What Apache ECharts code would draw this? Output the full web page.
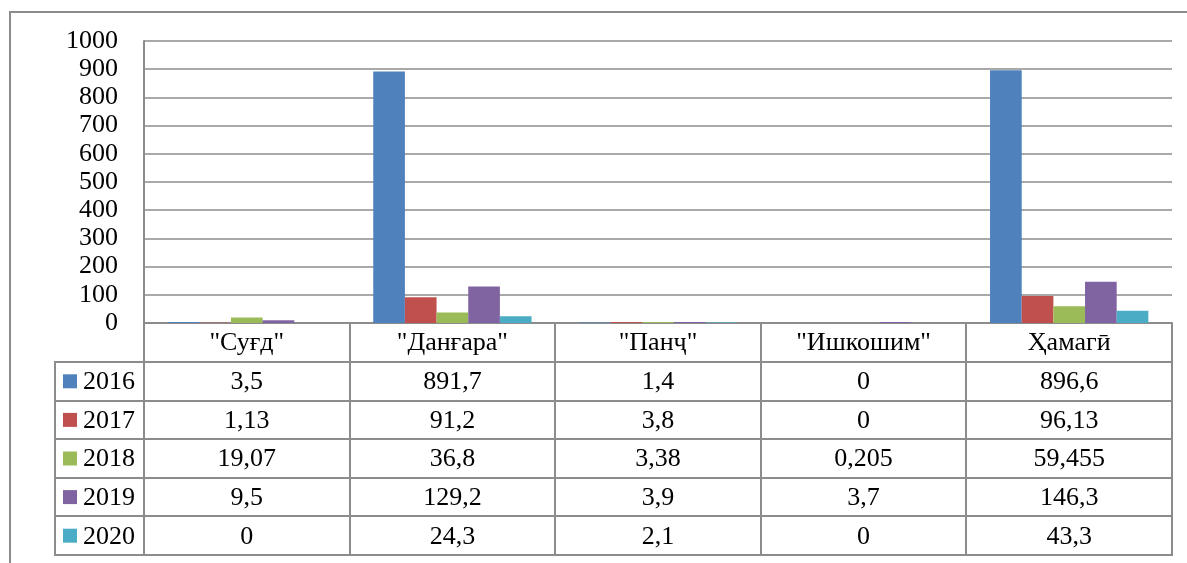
<!DOCTYPE html>
<html>
<head>
<meta charset="utf-8">
<script src="https://cdn.jsdelivr.net/npm/echarts@6/dist/echarts.min.js"></script>
<style>
html,body{margin:0;padding:0;background:#fff;}
#c{width:1187px;height:563px;}
</style>
</head>
<body>
<div id="c"></div>
<script>
const categories = ['"Суғд"', '"Данғара"', '"Панҷ"', '"Ишкошим"', 'Ҳамагӣ'];
const years = ['2016', '2017', '2018', '2019', '2020'];
const v2016 = [3.5, 891.7, 1.4, 0, 896.6];
const v2017 = [1.13, 91.2, 3.8, 0, 96.13];
const v2018 = [19.07, 36.8, 3.38, 0.205, 59.455];
const v2019 = [9.5, 129.2, 3.9, 3.7, 146.3];
const v2020 = [0, 24.3, 2.1, 0, 43.3];
const yTicks = [0, 100, 200, 300, 400, 500, 600, 700, 800, 900, 1000];

const seriesValues = [v2016, v2017, v2018, v2019, v2020];
const colors = ['#4F81BD', '#C0504D', '#9BBB59', '#8064A2', '#4BACC6'];
const gridColor = '#8c8c8c';
const FAMILY = 'Liberation Serif';
const FSIZE = 26;
const FONT = FSIZE + 'px Liberation Serif';

const chart = echarts.init(document.getElementById('c'), null, {renderer: 'canvas'});
const gridLeft = 144, gridRight = 15, gridTop = 41, gridBottom = 240;

chart.setOption({
  animation: false,
  grid: {left: gridLeft, right: gridRight, top: gridTop, bottom: gridBottom},
  xAxis: {
    type: 'category', data: categories,
    axisLine: {lineStyle: {color: gridColor, width: 2}},
    axisTick: {show: false}, axisLabel: {show: false}
  },
  yAxis: {
    type: 'value', min: yTicks[0], max: yTicks[yTicks.length - 1], interval: 100,
    axisLine: {show: true, lineStyle: {color: gridColor, width: 2}},
    axisTick: {show: false},
    axisLabel: {margin: 26, fontFamily: FAMILY, fontSize: FSIZE, color: '#000', formatter: v => String(v)},
    splitLine: {lineStyle: {color: gridColor, width: 1.5}}
  },
  series: years.map((y, i) => ({
    type: 'bar', name: y, data: seriesValues[i],
    barGap: '0%', barCategoryGap: '23%',
    itemStyle: {color: colors[i]}
  }))
});

// Build data table under the plot
const W = 1187;
const x0 = gridLeft, x1 = W - gridRight;
const y0 = chart.convertToPixel({yAxisIndex: 0}, 0);
const headerH = 39, rowH = 38.6, tableLeft = 55;
const colW = (x1 - x0) / categories.length;
const bottom = Math.round(y0 + headerH + rowH * years.length);
const g = [];
const fmt = v => String(v).replace('.', ',');
const txt = (text, x, y, align) => ({type: 'text', style: {text: text, x: x, y: y, fontFamily: FAMILY, fontSize: FSIZE, font: FONT, fill: '#000', align: align, verticalAlign: 'middle', textAlign: align, textVerticalAlign: 'middle'}});
const LW = 2;

// outer frame
g.push({type: 'rect', shape: {x: 10, y: 12, width: 1300, height: 700}, style: {fill: 'none', stroke: gridColor, lineWidth: LW}, silent: true});

// horizontal lines
for (let k = 0; k <= years.length; k++) {
  const y = Math.round(y0 + headerH + k * rowH);
  g.push({type: 'line', shape: {x1: tableLeft - 1, y1: y, x2: x1 + 1, y2: y}, style: {stroke: gridColor, lineWidth: LW}});
}
// vertical lines
for (let c = 0; c <= categories.length; c++) {
  const x = Math.round(x0 + c * colW);
  g.push({type: 'line', shape: {x1: x, y1: y0, x2: x, y2: bottom + 1}, style: {stroke: gridColor, lineWidth: LW}});
}
g.push({type: 'line', shape: {x1: tableLeft, y1: y0 + headerH, x2: tableLeft, y2: bottom + 1}, style: {stroke: gridColor, lineWidth: LW}});

// header texts
categories.forEach((c, i) => {
  const cx = chart.convertToPixel({xAxisIndex: 0}, c);
  g.push(txt(c, cx, y0 + headerH / 2 + 1, 'center'));
});
// rows
years.forEach((yr, r) => {
  const cy = y0 + headerH + rowH * r + rowH / 2 + 1;
  g.push({type: 'rect', shape: {x: 63, y: cy - 8, width: 14, height: 14}, style: {fill: colors[r]}});
  g.push(txt(yr, 83, cy, 'left'));
  seriesValues[r].forEach((v, i) => {
    const cx = chart.convertToPixel({xAxisIndex: 0}, categories[i]);
    g.push(txt(fmt(v), cx, cy, 'center'));
  });
});

chart.setOption({graphic: {elements: g}});
</script>
</body>
</html>
